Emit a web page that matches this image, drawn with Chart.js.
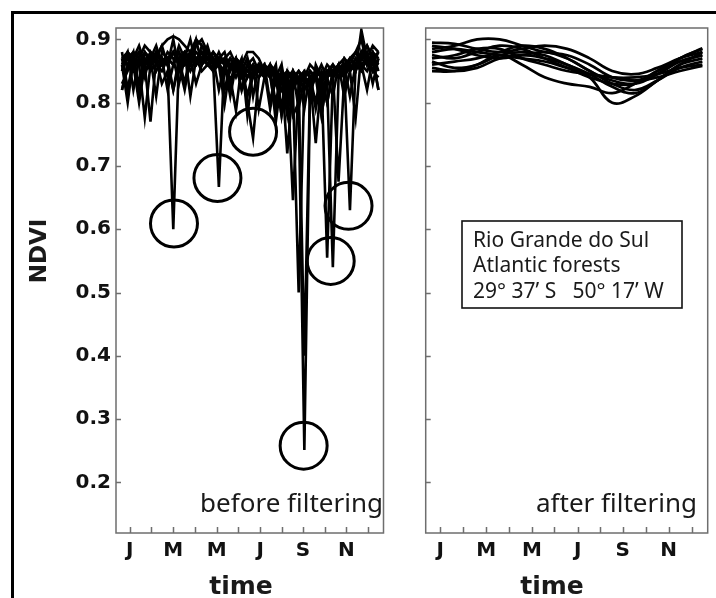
<!DOCTYPE html>
<html>
<head>
<meta charset="utf-8">
<script src="https://cdn.jsdelivr.net/npm/chart.js@4"></script>
<style>
html, body { margin: 0; padding: 0; background: #fff; }
body { width: 716px; height: 598px; position: relative; overflow: hidden; }
#frame { position: absolute; left: 11px; top: 11px; width: 720px; height: 600px; border-top: 3px solid #000; border-left: 3px solid #000; }
canvas { position: absolute; top: 0; }
#before { left: 0; }
#after { left: 410px; }
</style>
</head>
<body>
<div id="frame"></div>
<canvas id="before" width="410" height="598"></canvas>
<canvas id="after" width="306" height="598"></canvas>
<script>
// 8-day composite dates (day of year) for the raw series
var doy = [4, 12, 20, 28, 36, 44, 52, 60, 68, 76,
  84, 92, 100, 108, 116, 124, 132, 140, 148, 156,
  164, 172, 180, 188, 196, 204, 212, 220, 228, 236,
  244, 252, 260, 268, 276, 284, 292, 300, 308, 316,
  324, 332, 340, 348, 356, 364];

// raw NDVI, one array per pixel (before filtering)
var rawA = [0.86, 0.88, 0.82, 0.87, 0.84, 0.88, 0.87, 0.83, 0.85, 0.60,
  0.87, 0.88, 0.86, 0.89, 0.90, 0.88, 0.86, 0.87, 0.88, 0.85,
  0.87, 0.82, 0.84, 0.85, 0.86, 0.84, 0.85, 0.80, 0.85, 0.84,
  0.82, 0.84, 0.85, 0.80, 0.86, 0.84, 0.85, 0.86, 0.84, 0.87,
  0.86, 0.88, 0.90, 0.86, 0.88, 0.85];
var rawB = [0.82, 0.86, 0.87, 0.89, 0.86, 0.87, 0.81, 0.88, 0.87, 0.86,
  0.89, 0.87, 0.90, 0.86, 0.87, 0.89, 0.86, 0.667, 0.87, 0.88,
  0.86, 0.85, 0.87, 0.81, 0.86, 0.85, 0.84, 0.86, 0.79, 0.85,
  0.84, 0.83, 0.84, 0.86, 0.85, 0.80, 0.85, 0.84, 0.86, 0.85,
  0.87, 0.86, 0.88, 0.87, 0.83, 0.87];
var rawC = [0.88, 0.82, 0.87, 0.86, 0.88, 0.86, 0.87, 0.89, 0.86, 0.88,
  0.87, 0.83, 0.88, 0.87, 0.85, 0.86, 0.88, 0.87, 0.82, 0.86,
  0.87, 0.85, 0.80, 0.744, 0.84, 0.86, 0.85, 0.84, 0.86, 0.81,
  0.85, 0.83, 0.84, 0.85, 0.84, 0.86, 0.84, 0.81, 0.86, 0.87,
  0.85, 0.86, 0.87, 0.89, 0.87, 0.82];
var rawD = [0.87, 0.86, 0.88, 0.81, 0.87, 0.86, 0.88, 0.87, 0.86, 0.90,
  0.85, 0.87, 0.88, 0.86, 0.87, 0.86, 0.85, 0.87, 0.86, 0.81,
  0.86, 0.85, 0.87, 0.85, 0.84, 0.85, 0.79, 0.84, 0.82, 0.84,
  0.78, 0.80, 0.251, 0.82, 0.84, 0.83, 0.85, 0.84, 0.86, 0.81,
  0.85, 0.87, 0.86, 0.85, 0.87, 0.86];
var rawE = [0.85, 0.87, 0.86, 0.80, 0.86, 0.88, 0.86, 0.85, 0.87, 0.86,
  0.88, 0.86, 0.87, 0.90, 0.86, 0.87, 0.85, 0.86, 0.87, 0.86,
  0.84, 0.86, 0.85, 0.86, 0.79, 0.84, 0.86, 0.83, 0.85, 0.80,
  0.84, 0.85, 0.83, 0.84, 0.79, 0.84, 0.555, 0.84, 0.85, 0.86,
  0.81, 0.86, 0.85, 0.87, 0.86, 0.88];
var rawF = [0.87, 0.88, 0.86, 0.87, 0.85, 0.86, 0.88, 0.86, 0.87, 0.82,
  0.86, 0.87, 0.85, 0.87, 0.88, 0.86, 0.87, 0.82, 0.86, 0.87,
  0.85, 0.86, 0.84, 0.86, 0.85, 0.84, 0.86, 0.84, 0.79, 0.84,
  0.646, 0.83, 0.85, 0.84, 0.80, 0.85, 0.83, 0.54, 0.84, 0.86,
  0.85, 0.87, 0.86, 0.82, 0.87, 0.86];
var rawG = [0.86, 0.80, 0.87, 0.88, 0.86, 0.87, 0.85, 0.87, 0.86, 0.88,
  0.86, 0.82, 0.87, 0.86, 0.88, 0.87, 0.86, 0.88, 0.86, 0.83,
  0.87, 0.86, 0.85, 0.84, 0.86, 0.85, 0.84, 0.85, 0.84, 0.78,
  0.84, 0.83, 0.40, 0.83, 0.85, 0.80, 0.84, 0.85, 0.84, 0.85,
  0.63, 0.86, 0.87, 0.86, 0.88, 0.87];
var rawH = [0.83, 0.85, 0.87, 0.86, 0.776, 0.86, 0.88, 0.87, 0.86, 0.82,
  0.87, 0.88, 0.81, 0.87, 0.86, 0.88, 0.87, 0.86, 0.85, 0.87,
  0.86, 0.82, 0.86, 0.85, 0.84, 0.86, 0.84, 0.79, 0.85, 0.72,
  0.83, 0.84, 0.82, 0.84, 0.85, 0.78, 0.84, 0.85, 0.675, 0.84,
  0.86, 0.85, 0.915, 0.87, 0.85, 0.84];
var rawI = [0.82, 0.86, 0.85, 0.87, 0.86, 0.77, 0.87, 0.86, 0.88, 0.87,
  0.83, 0.87, 0.86, 0.88, 0.87, 0.86, 0.87, 0.86, 0.797, 0.86,
  0.87, 0.86, 0.81, 0.85, 0.86, 0.84, 0.85, 0.84, 0.78, 0.84,
  0.82, 0.50, 0.83, 0.84, 0.736, 0.84, 0.80, 0.85, 0.84, 0.86,
  0.85, 0.776, 0.88, 0.86, 0.87, 0.82];
var rawJ = [0.86, 0.87, 0.88, 0.87, 0.89, 0.88, 0.87, 0.89, 0.90, 0.905,
  0.90, 0.89, 0.88, 0.90, 0.89, 0.88, 0.87, 0.86, 0.85, 0.84,
  0.787, 0.86, 0.88, 0.88, 0.87, 0.85, 0.86, 0.85, 0.84, 0.85,
  0.83, 0.85, 0.84, 0.83, 0.85, 0.84, 0.86, 0.85, 0.84, 0.86,
  0.87, 0.86, 0.88, 0.89, 0.87, 0.88];
var rawK = [0.87, 0.82, 0.86, 0.88, 0.87, 0.85, 0.86, 0.87, 0.82, 0.86,
  0.88, 0.86, 0.87, 0.83, 0.86, 0.88, 0.86, 0.87, 0.86, 0.86,
  0.85, 0.87, 0.78, 0.85, 0.86, 0.84, 0.85, 0.77, 0.84, 0.80,
  0.85, 0.84, 0.79, 0.85, 0.84, 0.78, 0.84, 0.86, 0.85, 0.84,
  0.86, 0.85, 0.87, 0.88, 0.85, 0.87];
var rawL = [0.85, 0.88, 0.87, 0.83, 0.88, 0.87, 0.89, 0.86, 0.87, 0.88,
  0.86, 0.88, 0.87, 0.86, 0.89, 0.87, 0.88, 0.86, 0.87, 0.82,
  0.86, 0.84, 0.86, 0.87, 0.85, 0.86, 0.80, 0.85, 0.78, 0.84,
  0.85, 0.79, 0.84, 0.83, 0.85, 0.84, 0.80, 0.85, 0.86, 0.84,
  0.87, 0.88, 0.86, 0.87, 0.89, 0.88];

// circled outliers
var circleDoy = [77, 138, 188, 259, 297, 322];
var circleNdvi = [0.609, 0.681, 0.754, 0.258, 0.550, 0.637];

// filtered series, sampled monthly
var smoothDoy = [4, 34, 64, 94, 124, 154, 184, 214, 244, 274, 304, 334, 364];
var fit1 = [0.895, 0.893, 0.885, 0.88, 0.885, 0.89, 0.885, 0.87, 0.85, 0.845, 0.855, 0.87, 0.88];
var fit2 = [0.885, 0.89, 0.90, 0.90, 0.89, 0.88, 0.875, 0.86, 0.84, 0.835, 0.845, 0.865, 0.875];
var fit3 = [0.875, 0.87, 0.88, 0.89, 0.885, 0.87, 0.855, 0.84, 0.83, 0.83, 0.85, 0.87, 0.886];
var fit4 = [0.865, 0.855, 0.86, 0.875, 0.88, 0.875, 0.86, 0.845, 0.825, 0.815, 0.835, 0.86, 0.88];
var fit5 = [0.855, 0.85, 0.855, 0.87, 0.875, 0.87, 0.86, 0.84, 0.80, 0.81, 0.835, 0.86, 0.87];
var fit6 = [0.88, 0.885, 0.88, 0.875, 0.87, 0.865, 0.855, 0.845, 0.84, 0.84, 0.845, 0.855, 0.86];
var fit7 = [0.89, 0.885, 0.875, 0.87, 0.875, 0.88, 0.87, 0.85, 0.83, 0.82, 0.835, 0.855, 0.865];
var fit8 = [0.87, 0.875, 0.885, 0.885, 0.87, 0.86, 0.85, 0.845, 0.84, 0.835, 0.84, 0.85, 0.858];
var fit9 = [0.86, 0.865, 0.87, 0.88, 0.89, 0.885, 0.87, 0.85, 0.835, 0.83, 0.845, 0.87, 0.885];
var fit10 = [0.85, 0.85, 0.86, 0.875, 0.86, 0.84, 0.83, 0.825, 0.815, 0.83, 0.85, 0.865, 0.875];

// axes
var monthDoy = [15, 45, 76, 106, 137, 167, 198, 228, 258, 289, 319, 350];
var monthLabels = ['J', '', 'M', '', 'M', '', 'J', '', 'S', '', 'N', ''];
var yTicks = [0.2, 0.3, 0.4, 0.5, 0.6, 0.7, 0.8, 0.9];

var rawSeries = [rawA, rawB, rawC, rawD, rawE, rawF, rawG, rawH, rawI, rawJ, rawK, rawL];
var fitSeries = [fit1, fit2, fit3, fit4, fit5, fit6, fit7, fit8, fit9, fit10];

Chart.defaults.font.family = 'DejaVu Sans';
Chart.defaults.color = '#111';

function pts(xs, ys) {
    return ys.map(function (v, i) { return { x: xs[i], y: v }; });
}

function lineSets(xs, list, tension, width) {
    return list.map(function (ys) {
        return {
            data: pts(xs, ys),
            showLine: true,
            borderColor: '#000',
            borderWidth: width,
            pointRadius: 0,
            tension: tension
        };
    });
}

function scales(showY, yWidth) {
    return {
        x: {
            type: 'linear', min: -4.4, max: 371.1,
            afterBuildTicks: function (s) { s.ticks = monthDoy.map(function (v) { return { value: v }; }); },
            ticks: {
                autoSkip: false, maxRotation: 0, padding: 6, color: '#111',
                font: { size: 20, weight: 'bold' },
                callback: function (v, i) { return monthLabels[i]; }
            },
            grid: { display: false, drawTicks: false },
            border: { display: false },
            afterFit: function (s) { s.height = 65; }
        },
        y: {
            type: 'linear', min: 0.12, max: 0.918,
            afterBuildTicks: function (s) { s.ticks = yTicks.map(function (v) { return { value: v }; }); },
            ticks: {
                display: showY, padding: 5, color: '#111',
                font: { size: 20, weight: 'bold' },
                callback: function (v) { return v.toFixed(1); }
            },
            grid: { display: false, drawTicks: false },
            border: { display: false },
            afterFit: function (s) { s.width = yWidth; }
        }
    };
}

// panel box, inward ticks and the loose text
function panelPlugin(o) {
    return {
        id: 'panel',
        afterDraw: function (chart) {
            var ctx = chart.ctx, a = chart.chartArea;
            var xs = chart.scales.x, ys = chart.scales.y;
            ctx.save();
            ctx.strokeStyle = '#6e6e6e';
            ctx.lineWidth = 1.5;
            ctx.strokeRect(a.left, a.top, a.right - a.left, a.bottom - a.top);
            ctx.beginPath();
            monthDoy.forEach(function (d) {
                var px = Math.round(xs.getPixelForValue(d)) + 0.5;
                ctx.moveTo(px, a.bottom);
                ctx.lineTo(px, a.bottom - 6);
            });
            yTicks.forEach(function (v) {
                var py = Math.round(ys.getPixelForValue(v)) + 0.5;
                ctx.moveTo(a.left, py);
                ctx.lineTo(a.left + 5, py);
            });
            ctx.stroke();

            ctx.fillStyle = '#1a1a1a';
            ctx.font = '26px "Noto Sans"';
            ctx.textAlign = 'right';
            ctx.textBaseline = 'alphabetic';
            ctx.fillText(o.label, o.labelX, 512);

            ctx.font = 'bold 25px "DejaVu Sans"';
            ctx.textAlign = 'center';
            ctx.fillText('time', o.timeX, 594);

            if (o.ndvi) {
                ctx.save();
                ctx.translate(40, 251);
                ctx.rotate(-Math.PI / 2);
                ctx.font = 'bold 23px "DejaVu Sans"';
                ctx.textBaseline = 'middle';
                ctx.fillText('NDVI', 0, 0);
                ctx.restore();
            }
            if (o.box) {
                ctx.fillStyle = '#fff';
                ctx.fillRect(52, 221, 220, 87);
                ctx.strokeStyle = '#111';
                ctx.lineWidth = 1.6;
                ctx.strokeRect(52, 221, 220, 87);
                ctx.fillStyle = '#1a1a1a';
                ctx.font = '21px "Noto Sans"';
                ctx.textAlign = 'left';
                ctx.fillText('Rio Grande do Sul', 63, 247);
                ctx.fillText('Atlantic forests', 63, 272);
                ctx.fillText('29\u00b0 37\u2019 S   50\u00b0 17\u2019 W', 63, 298);
            }
            ctx.restore();
        }
    };
}

var beforeSets = lineSets(doy, rawSeries, 0, 2.6);
beforeSets.push({
    data: pts(circleDoy, circleNdvi),
    showLine: false,
    pointRadius: 23.5,
    pointBorderWidth: 3,
    pointBorderColor: '#000',
    pointBackgroundColor: 'rgba(0,0,0,0)'
});

new Chart(document.getElementById('before'), {
    type: 'scatter',
    data: { datasets: beforeSets },
    options: {
        responsive: false,
        devicePixelRatio: 1,
        animation: false,
        layout: { padding: { top: 28, right: 12, left: 0, bottom: 0 } },
        plugins: { legend: { display: false }, tooltip: { enabled: false } },
        scales: scales(true, 116)
    },
    plugins: [panelPlugin({ label: 'before filtering', labelX: 383, timeX: 241, ndvi: true })]
});

new Chart(document.getElementById('after'), {
    type: 'scatter',
    data: { datasets: lineSets(smoothDoy, fitSeries, 0.4, 2.7) },
    options: {
        responsive: false,
        devicePixelRatio: 1,
        animation: false,
        layout: { padding: { top: 28, right: 8.3, left: 0, bottom: 0 } },
        plugins: { legend: { display: false }, tooltip: { enabled: false } },
        scales: scales(false, 15.7)
    },
    plugins: [panelPlugin({ label: 'after filtering', labelX: 287, timeX: 142, box: true })]
});
</script>
</body>
</html>
